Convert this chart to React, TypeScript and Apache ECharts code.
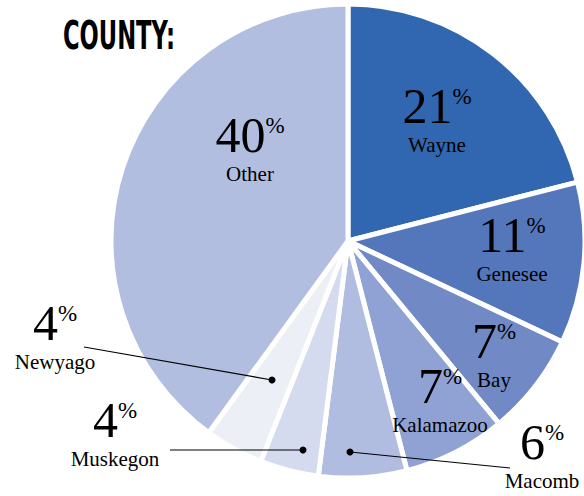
import React, { useEffect, useRef } from "react";
import * as echarts from "echarts";

const counties = ["Wayne", "Genesee", "Bay", "Kalamazoo", "Macomb", "Muskegon", "Newyago", "Other"];
const shares = [21, 11, 7, 7, 6, 4, 4, 40];
const titleText = "COUNTY:";

const palette = ["#3067b0", "#5477bc", "#7189c5", "#8fa2d3", "#b0bde0", "#d5dbee", "#edeff7", "#b2bee0"];
// label block centres (layout only)
const labelCenters: number[][] = [
  [437, 117],
  [512, 246],
  [494, 352],
  [440, 397],
  [542, 453],
  [115, 431],
  [55, 334],
  [250, 146],
];
const leaderLines: number[][][] = [
  [[350, 452], [510, 468]],
  [[303, 450], [170, 450]],
  [[272, 380], [84, 347]],
];

const NUM_FONT = "'Liberation Serif', serif";

export default function App() {
  const ref = useRef<HTMLDivElement>(null);
  useEffect(() => {
    if (!ref.current) return;
    const chart = echarts.init(ref.current, null, { renderer: "svg" });
    const data = counties.map((name, i) => ({
      name,
      value: shares[i],
      itemStyle: { color: palette[i] },
    }));
    const lines: any[] = [];
    leaderLines.forEach((pts) => {
      lines.push({ type: "polyline", shape: { points: pts }, style: { stroke: "#000", lineWidth: 1.2, fill: null }, z: 100 });
      lines.push({ type: "circle", shape: { cx: pts[0][0], cy: pts[0][1], r: 3.5 }, style: { fill: "#000" }, z: 100 });
    });
    chart.setOption({
      animation: false,
      graphic: [
        {
          type: "text",
          x: 63,
          y: 16,
          scaleX: 0.58,
          style: {
            text: titleText,
            fill: "#000",
            font: "bold 39px 'DejaVu Sans'",
          },
        },
        ...lines,
      ],
      series: [
        {
          type: "pie",
          center: [348, 241],
          radius: [0, 237],
          startAngle: 90,
          clockwise: true,
          data,
          itemStyle: { borderColor: "#fff", borderWidth: 5 },
          emphasis: { disabled: true },
          labelLine: { show: false },
          label: {
            show: true,
            position: "inside",
            color: "#000",
            fontWeight: "normal",
            formatter: (p: any) => `{v|${p.value}}{p|%}\n{n|${p.name}}`,
            rich: {
              v: { fontFamily: NUM_FONT, fontSize: 50, lineHeight: 56, color: "#000", fontWeight: "normal" },
              p: { fontFamily: NUM_FONT, fontSize: 23, lineHeight: 30, color: "#000", verticalAlign: "top", padding: [7, 0, 0, 0], fontWeight: "normal" },
              n: { fontFamily: NUM_FONT, fontSize: 21, lineHeight: 22, color: "#000", align: "center", fontWeight: "normal" },
            },
          },
          labelLayout: (params: any) => {
            const c = labelCenters[params.dataIndex];
            return { x: c[0], y: c[1], align: "center", verticalAlign: "middle", hideOverlap: false, moveOverlap: false };
          },
        },
      ],
    });
    return () => chart.dispose();
  }, []);
  return <div ref={ref} style={{ position: "absolute", left: 0, top: 0, width: 584, height: 496 }} />;
}
